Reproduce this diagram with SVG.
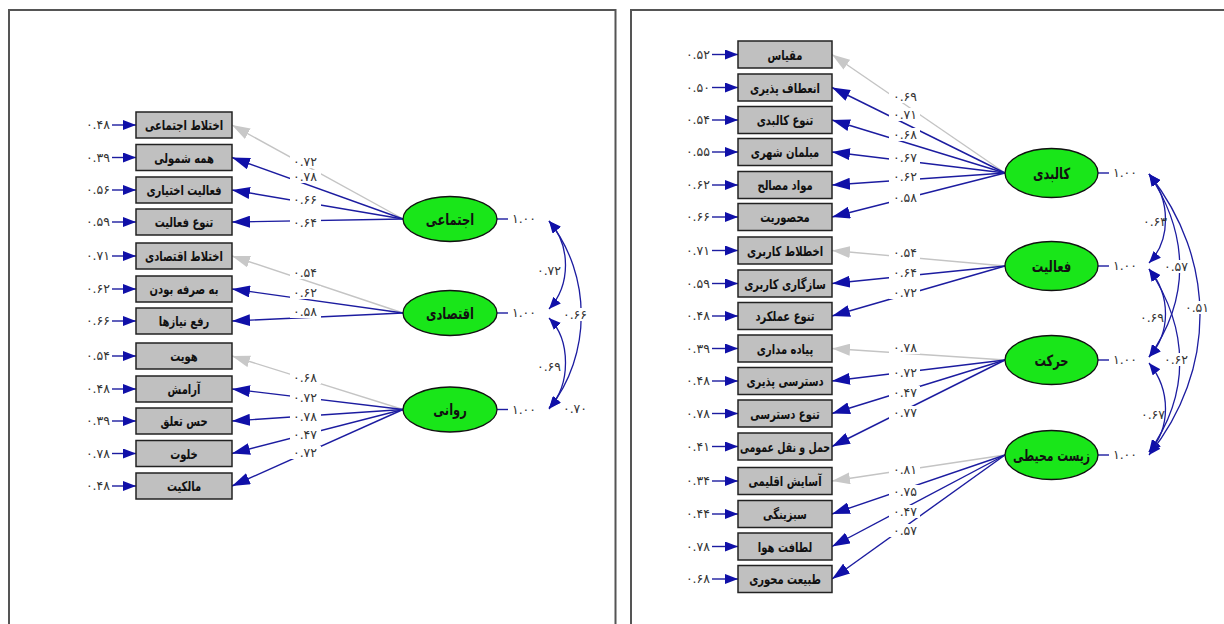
<svg xmlns="http://www.w3.org/2000/svg" width="1224" height="624" viewBox="0 0 1224 624">
<style>
.frame{fill:none;stroke:#555;stroke-width:2}
.box rect{fill:#c0c0c0;stroke:#222;stroke-width:1.5}
.box text{font-family:"DejaVu Sans",sans-serif;font-size:13.5px;font-weight:bold;fill:#111;text-anchor:middle}
.lat ellipse{fill:#19e619;stroke:#111;stroke-width:1.3}
.lat text{font-family:"DejaVu Sans",sans-serif;font-size:15.5px;font-weight:bold;fill:#111;text-anchor:middle}
.num{font-family:"DejaVu Sans",sans-serif;font-size:12.5px;fill:#333;letter-spacing:0.3px}
.mid{text-anchor:middle}
.end{text-anchor:end}
.lb{fill:#fff}
.bl{stroke:#1c1ca0;stroke-width:1.4;fill:none}
.gr{stroke:#c4c4c4;stroke-width:1.4;fill:none}
.er{stroke:#1c1ca0;stroke-width:1.4;marker-end:url(#ae)}
.ld{marker-end:url(#ab)}
.lg{marker-end:url(#ag)}
.cv{stroke:#1c1ca0;stroke-width:1.3;fill:none;marker-start:url(#ac);marker-end:url(#ac)}
.vl{stroke:#1c1ca0;stroke-width:1.4}
</style>
<defs>
<marker id="ab" markerUnits="userSpaceOnUse" markerWidth="18" markerHeight="12" refX="18" refY="6" orient="auto"><path d="M0,0 L18,6 L0,12 z" fill="#1010a8"/></marker>
<marker id="ag" markerUnits="userSpaceOnUse" markerWidth="18" markerHeight="12" refX="18" refY="6" orient="auto"><path d="M0,0 L18,6 L0,12 z" fill="#c8c8c8"/></marker>
<marker id="ae" markerUnits="userSpaceOnUse" markerWidth="13" markerHeight="10" refX="13" refY="5" orient="auto"><path d="M0,0 L13,5 L0,10 z" fill="#1010a8"/></marker>
<marker id="ac" markerUnits="userSpaceOnUse" markerWidth="12" markerHeight="10" refX="12" refY="5" orient="auto-start-reverse"><path d="M0,0 L12,5 L0,10 z" fill="#1010a8"/></marker>
</defs>
<rect width="1224" height="624" fill="#fff"/>
<path class="frame" d="M9,624 V10 H615.5 V624"/>
<path class="frame" d="M631,624 V10 H1224"/>

<g id="connectors">
<!-- left loadings -->
<line class="gr lg" x1="403" y1="219" x2="232" y2="125"/>
<line class="bl ld" x1="403" y1="219" x2="232" y2="157.5"/>
<line class="bl ld" x1="403" y1="219" x2="232" y2="190"/>
<line class="bl ld" x1="403" y1="219" x2="232" y2="222"/>
<line class="gr lg" x1="403" y1="313" x2="232" y2="256"/>
<line class="bl ld" x1="403" y1="313" x2="232" y2="289"/>
<line class="bl ld" x1="403" y1="313" x2="232" y2="321"/>
<line class="gr lg" x1="403" y1="409.5" x2="232" y2="356"/>
<line class="bl ld" x1="403" y1="409.5" x2="232" y2="389"/>
<line class="bl ld" x1="403" y1="409.5" x2="232" y2="421"/>
<line class="bl ld" x1="403" y1="409.5" x2="232" y2="453.5"/>
<line class="bl ld" x1="403" y1="409.5" x2="232" y2="486"/>
<!-- left errors -->
<line class="er" x1="112" y1="125" x2="136" y2="125"/>
<line class="er" x1="112" y1="157.5" x2="136" y2="157.5"/>
<line class="er" x1="112" y1="190" x2="136" y2="190"/>
<line class="er" x1="112" y1="222" x2="136" y2="222"/>
<line class="er" x1="112" y1="256" x2="136" y2="256"/>
<line class="er" x1="112" y1="289" x2="136" y2="289"/>
<line class="er" x1="112" y1="321" x2="136" y2="321"/>
<line class="er" x1="112" y1="356" x2="136" y2="356"/>
<line class="er" x1="112" y1="389" x2="136" y2="389"/>
<line class="er" x1="112" y1="421" x2="136" y2="421"/>
<line class="er" x1="112" y1="453.5" x2="136" y2="453.5"/>
<line class="er" x1="112" y1="486" x2="136" y2="486"/>
<!-- left variances & covariances -->
<line class="vl" x1="497" y1="219" x2="508" y2="219"/>
<line class="vl" x1="497" y1="313" x2="508" y2="313"/>
<line class="vl" x1="497" y1="409.5" x2="508" y2="409.5"/>
<path class="cv" d="M549,221 C571,245 571,285 549,309"/>
<path class="cv" d="M549,318 C571,340 571,385 549,408"/>
<path class="cv" d="M549,221 C592,275 592,355 549,409"/>
<!-- right loadings -->
<line class="gr lg" x1="1005" y1="173" x2="832" y2="54.5"/>
<line class="bl ld" x1="1005" y1="173" x2="832" y2="87.5"/>
<line class="bl ld" x1="1005" y1="173" x2="832" y2="120"/>
<line class="bl ld" x1="1005" y1="173" x2="832" y2="152"/>
<line class="bl ld" x1="1005" y1="173" x2="832" y2="185"/>
<line class="bl ld" x1="1005" y1="173" x2="832" y2="217"/>
<line class="gr lg" x1="1005" y1="266" x2="832" y2="250.5"/>
<line class="bl ld" x1="1005" y1="266" x2="832" y2="283.5"/>
<line class="bl ld" x1="1005" y1="266" x2="832" y2="316"/>
<line class="gr lg" x1="1005" y1="360" x2="832" y2="348.5"/>
<line class="bl ld" x1="1005" y1="360" x2="832" y2="381"/>
<line class="bl ld" x1="1005" y1="360" x2="832" y2="413.5"/>
<line class="bl ld" x1="1005" y1="360" x2="832" y2="446.5"/>
<line class="gr lg" x1="1005" y1="455" x2="832" y2="481"/>
<line class="bl ld" x1="1005" y1="455" x2="832" y2="514"/>
<line class="bl ld" x1="1005" y1="455" x2="832" y2="546.5"/>
<line class="bl ld" x1="1005" y1="455" x2="832" y2="579"/>
<!-- right errors -->
<line class="er" x1="712" y1="54.5" x2="738" y2="54.5"/>
<line class="er" x1="712" y1="87.5" x2="738" y2="87.5"/>
<line class="er" x1="712" y1="120" x2="738" y2="120"/>
<line class="er" x1="712" y1="152" x2="738" y2="152"/>
<line class="er" x1="712" y1="185" x2="738" y2="185"/>
<line class="er" x1="712" y1="217" x2="738" y2="217"/>
<line class="er" x1="712" y1="250.5" x2="738" y2="250.5"/>
<line class="er" x1="712" y1="283.5" x2="738" y2="283.5"/>
<line class="er" x1="712" y1="316" x2="738" y2="316"/>
<line class="er" x1="712" y1="348.5" x2="738" y2="348.5"/>
<line class="er" x1="712" y1="381" x2="738" y2="381"/>
<line class="er" x1="712" y1="413.5" x2="738" y2="413.5"/>
<line class="er" x1="712" y1="446.5" x2="738" y2="446.5"/>
<line class="er" x1="712" y1="481" x2="738" y2="481"/>
<line class="er" x1="712" y1="514" x2="738" y2="514"/>
<line class="er" x1="712" y1="546.5" x2="738" y2="546.5"/>
<line class="er" x1="712" y1="579" x2="738" y2="579"/>
<!-- right variances & covariances -->
<line class="vl" x1="1098" y1="173" x2="1109" y2="173"/>
<line class="vl" x1="1098" y1="266" x2="1109" y2="266"/>
<line class="vl" x1="1098" y1="360" x2="1109" y2="360"/>
<line class="vl" x1="1098" y1="455" x2="1109" y2="455"/>
<path class="cv" d="M1149,174 C1171,200 1171,240 1149,263"/>
<path class="cv" d="M1149,269 C1171,295 1171,333 1149,357"/>
<path class="cv" d="M1149,363 C1171,390 1171,428 1149,452"/>
<path class="cv" d="M1149,174 C1190,235 1190,300 1149,357"/>
<path class="cv" d="M1149,269 C1190,330 1190,395 1149,452"/>
<path class="cv" d="M1149,174 C1217,260 1217,370 1149,455"/>
</g>

<g id="connector-labels">
<g class="num mid">
<!-- left loadings -->
<rect class="lb" x="290" y="155" width="31" height="13"/><text x="305" y="166">۰.۷۲</text>
<rect class="lb" x="290" y="170" width="31" height="13"/><text x="305" y="181">۰.۷۸</text>
<rect class="lb" x="290" y="193" width="31" height="13"/><text x="305" y="204">۰.۶۶</text>
<rect class="lb" x="290" y="216" width="31" height="13"/><text x="305" y="227">۰.۶۴</text>
<rect class="lb" x="290" y="266" width="31" height="13"/><text x="305" y="277">۰.۵۴</text>
<rect class="lb" x="290" y="286" width="31" height="13"/><text x="305" y="297">۰.۶۲</text>
<rect class="lb" x="290" y="305" width="31" height="13"/><text x="305" y="316">۰.۵۸</text>
<rect class="lb" x="290" y="371" width="31" height="13"/><text x="305" y="382">۰.۶۸</text>
<rect class="lb" x="290" y="391" width="31" height="13"/><text x="305" y="402">۰.۷۲</text>
<rect class="lb" x="290" y="410" width="31" height="13"/><text x="305" y="421">۰.۷۸</text>
<rect class="lb" x="290" y="428" width="31" height="13"/><text x="305" y="439">۰.۴۷</text>
<rect class="lb" x="290" y="446" width="31" height="13"/><text x="305" y="457">۰.۷۲</text>
<!-- left variances and covariances -->
<text x="524" y="223">۱.۰۰</text>
<text x="524" y="317">۱.۰۰</text>
<text x="524" y="413.5">۱.۰۰</text>
<text x="549" y="275">۰.۷۲</text>
<text x="549" y="371">۰.۶۹</text>
<rect class="lb" x="561" y="308" width="29" height="13"/><text x="575" y="319">۰.۶۶</text>
<text x="575" y="413">۰.۷۰</text>
<!-- right loadings -->
<rect class="lb" x="889" y="90" width="31" height="13"/><text x="905" y="101">۰.۶۹</text>
<rect class="lb" x="889" y="108" width="31" height="13"/><text x="905" y="119">۰.۷۱</text>
<rect class="lb" x="889" y="128" width="31" height="13"/><text x="905" y="139">۰.۶۸</text>
<rect class="lb" x="889" y="151" width="31" height="13"/><text x="905" y="162">۰.۶۷</text>
<rect class="lb" x="889" y="170" width="31" height="13"/><text x="905" y="181">۰.۶۲</text>
<rect class="lb" x="889" y="191" width="31" height="13"/><text x="905" y="202">۰.۵۸</text>
<rect class="lb" x="889" y="246" width="31" height="13"/><text x="905" y="257">۰.۵۴</text>
<rect class="lb" x="889" y="266" width="31" height="13"/><text x="905" y="277">۰.۶۴</text>
<rect class="lb" x="889" y="286" width="31" height="13"/><text x="905" y="297">۰.۷۲</text>
<rect class="lb" x="889" y="341" width="31" height="13"/><text x="905" y="352">۰.۷۸</text>
<rect class="lb" x="889" y="366" width="31" height="13"/><text x="905" y="377">۰.۷۲</text>
<rect class="lb" x="889" y="386" width="31" height="13"/><text x="905" y="397">۰.۴۷</text>
<rect class="lb" x="889" y="406" width="31" height="13"/><text x="905" y="417">۰.۷۷</text>
<rect class="lb" x="889" y="463" width="31" height="13"/><text x="905" y="474">۰.۸۱</text>
<rect class="lb" x="889" y="485" width="31" height="13"/><text x="905" y="496">۰.۷۵</text>
<rect class="lb" x="889" y="505" width="31" height="13"/><text x="905" y="516">۰.۴۷</text>
<rect class="lb" x="889" y="524" width="31" height="13"/><text x="905" y="535">۰.۵۷</text>
<!-- right variances and covariances -->
<text x="1125" y="177">۱.۰۰</text>
<text x="1125" y="270">۱.۰۰</text>
<text x="1125" y="364">۱.۰۰</text>
<text x="1125" y="459">۱.۰۰</text>
<text x="1155" y="226">۰.۶۳</text>
<text x="1152" y="322">۰.۶۹</text>
<text x="1153" y="419">۰.۶۷</text>
<rect class="lb" x="1162" y="260" width="29" height="13"/><text x="1176" y="271">۰.۵۷</text>
<rect class="lb" x="1162" y="353" width="29" height="13"/><text x="1176" y="364">۰.۶۲</text>
<rect class="lb" x="1183" y="301" width="29" height="13"/><text x="1197" y="312">۰.۵۱</text>
</g>
<g class="num end">
<text x="110" y="129">۰.۴۸</text>
<text x="110" y="161.5">۰.۳۹</text>
<text x="110" y="194">۰.۵۶</text>
<text x="110" y="226">۰.۵۹</text>
<text x="110" y="260">۰.۷۱</text>
<text x="110" y="293">۰.۶۲</text>
<text x="110" y="325">۰.۶۶</text>
<text x="110" y="360">۰.۵۴</text>
<text x="110" y="393">۰.۴۸</text>
<text x="110" y="425">۰.۳۹</text>
<text x="110" y="457.5">۰.۷۸</text>
<text x="110" y="490">۰.۴۸</text>
<text x="710" y="58.5">۰.۵۲</text>
<text x="710" y="91.5">۰.۵۰</text>
<text x="710" y="124">۰.۵۴</text>
<text x="710" y="156">۰.۵۵</text>
<text x="710" y="189">۰.۶۲</text>
<text x="710" y="221">۰.۶۶</text>
<text x="710" y="254.5">۰.۷۱</text>
<text x="710" y="287.5">۰.۵۹</text>
<text x="710" y="320">۰.۴۸</text>
<text x="710" y="352.5">۰.۳۹</text>
<text x="710" y="385">۰.۴۸</text>
<text x="710" y="417.5">۰.۷۸</text>
<text x="710" y="450.5">۰.۴۱</text>
<text x="710" y="485">۰.۳۴</text>
<text x="710" y="518">۰.۴۴</text>
<text x="710" y="550.5">۰.۷۸</text>
<text x="710" y="583">۰.۶۸</text>
</g>
</g>

<g id="n-ejtemaei-mix" class="box"><rect x="136" y="112" width="96" height="26"/><text transform="translate(184,130) scale(0.74,1)">اختلاط اجتماعی</text></g>
<g id="n-hame-shomuli" class="box"><rect x="136" y="144.5" width="96" height="26"/><text transform="translate(184,162.5) scale(0.74,1)">همه شمولی</text></g>
<g id="n-faaliat-ekhtiari" class="box"><rect x="136" y="177" width="96" height="26"/><text transform="translate(184,195) scale(0.74,1)">فعالیت اختیاری</text></g>
<g id="n-tanavo-faaliat" class="box"><rect x="136" y="209" width="96" height="26"/><text transform="translate(184,227) scale(0.74,1)">تنوع فعالیت</text></g>
<g id="n-eqtesadi-mix" class="box"><rect x="136" y="243" width="96" height="26"/><text transform="translate(184,261) scale(0.74,1)">اختلاط اقتصادی</text></g>
<g id="n-be-sarfe" class="box"><rect x="136" y="276" width="96" height="26"/><text transform="translate(184,294) scale(0.74,1)">به صرفه بودن</text></g>
<g id="n-rafe-niaz" class="box"><rect x="136" y="308" width="96" height="26"/><text transform="translate(184,326) scale(0.74,1)">رفع نیازها</text></g>
<g id="n-hoviat" class="box"><rect x="136" y="343" width="96" height="26"/><text transform="translate(184,361) scale(0.74,1)">هویت</text></g>
<g id="n-aramesh" class="box"><rect x="136" y="376" width="96" height="26"/><text transform="translate(184,394) scale(0.74,1)">آرامش</text></g>
<g id="n-hes-taalogh" class="box"><rect x="136" y="408" width="96" height="26"/><text transform="translate(184,426) scale(0.74,1)">حس تعلق</text></g>
<g id="n-khalvat" class="box"><rect x="136" y="440.5" width="96" height="26"/><text transform="translate(184,458.5) scale(0.74,1)">خلوت</text></g>
<g id="n-malekiat" class="box"><rect x="136" y="473" width="96" height="26"/><text transform="translate(184,491) scale(0.74,1)">مالکیت</text></g>

<g id="n-ejtemaei" class="lat"><ellipse cx="450" cy="219" rx="47" ry="22.5"/><text transform="translate(450,224.5) scale(0.74,1)">اجتماعی</text></g>
<g id="n-eqtesadi" class="lat"><ellipse cx="450" cy="313" rx="47" ry="22.5"/><text transform="translate(450,318.5) scale(0.74,1)">اقتصادی</text></g>
<g id="n-ravani" class="lat"><ellipse cx="450" cy="409.5" rx="47" ry="22.5"/><text transform="translate(450,415) scale(0.74,1)">روانی</text></g>

<g id="n-meghyas" class="box"><rect x="738" y="41" width="94" height="27"/><text transform="translate(785,59.5) scale(0.74,1)">مقیاس</text></g>
<g id="n-enetaf" class="box"><rect x="738" y="74" width="94" height="27"/><text transform="translate(785,92.5) scale(0.74,1)">انعطاف پذیری</text></g>
<g id="n-tanavo-kalbadi" class="box"><rect x="738" y="106.5" width="94" height="27"/><text transform="translate(785,125) scale(0.74,1)">تنوع کالبدی</text></g>
<g id="n-mobleman" class="box"><rect x="738" y="138.5" width="94" height="27"/><text transform="translate(785,157) scale(0.74,1)">مبلمان شهری</text></g>
<g id="n-mavad" class="box"><rect x="738" y="171.5" width="94" height="27"/><text transform="translate(785,190) scale(0.74,1)">مواد مصالح</text></g>
<g id="n-mahsuriat" class="box"><rect x="738" y="203.5" width="94" height="27"/><text transform="translate(785,222) scale(0.74,1)">محصوریت</text></g>
<g id="n-ekhtelat-karbari" class="box"><rect x="738" y="237" width="94" height="27"/><text transform="translate(785,255.5) scale(0.74,1)">اخطلاط کاربری</text></g>
<g id="n-sazgari" class="box"><rect x="738" y="270" width="94" height="27"/><text transform="translate(785,288.5) scale(0.74,1)">سازگاری کاربری</text></g>
<g id="n-tanavo-amalkard" class="box"><rect x="738" y="302.5" width="94" height="27"/><text transform="translate(785,321) scale(0.74,1)">تنوع عملکرد</text></g>
<g id="n-piade" class="box"><rect x="738" y="335" width="94" height="27"/><text transform="translate(785,353.5) scale(0.74,1)">پیاده مداری</text></g>
<g id="n-dastresi-pazir" class="box"><rect x="738" y="367.5" width="94" height="27"/><text transform="translate(785,386) scale(0.74,1)">دسترسی پذیری</text></g>
<g id="n-tanavo-dastresi" class="box"><rect x="738" y="400" width="94" height="27"/><text transform="translate(785,418.5) scale(0.74,1)">تنوع دسترسی</text></g>
<g id="n-haml" class="box"><rect x="738" y="433" width="94" height="27"/><text transform="translate(785,451.5) scale(0.7,1)">حمل و نقل عمومی</text></g>
<g id="n-asayesh" class="box"><rect x="738" y="467.5" width="94" height="27"/><text transform="translate(785,486) scale(0.74,1)">آسایش اقلیمی</text></g>
<g id="n-sabz" class="box"><rect x="738" y="500.5" width="94" height="27"/><text transform="translate(785,519) scale(0.74,1)">سبزینگی</text></g>
<g id="n-letafat" class="box"><rect x="738" y="533" width="94" height="27"/><text transform="translate(785,551.5) scale(0.74,1)">لطافت هوا</text></g>
<g id="n-tabiat" class="box"><rect x="738" y="565.5" width="94" height="27"/><text transform="translate(785,584) scale(0.74,1)">طبیعت محوری</text></g>

<g id="n-kalbadi" class="lat"><ellipse cx="1051.5" cy="173" rx="46.5" ry="24.5"/><text transform="translate(1051.5,178.5) scale(0.74,1)">کالبدی</text></g>
<g id="n-faaliat" class="lat"><ellipse cx="1051.5" cy="266" rx="46.5" ry="24.5"/><text transform="translate(1051.5,271.5) scale(0.74,1)">فعالیت</text></g>
<g id="n-harekat" class="lat"><ellipse cx="1051.5" cy="360" rx="46.5" ry="24.5"/><text transform="translate(1051.5,365.5) scale(0.74,1)">حرکت</text></g>
<g id="n-zist" class="lat"><ellipse cx="1051.5" cy="455" rx="46.5" ry="24.5"/><text transform="translate(1051.5,460.5) scale(0.7,1)">زیست محیطی</text></g>
</svg>
